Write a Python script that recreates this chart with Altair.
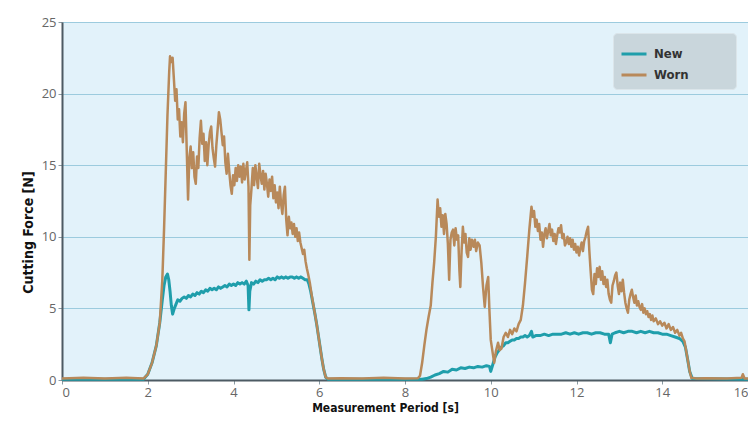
import altair as alt
import pandas as pd

worn_x = [0, 0.5, 1.0, 1.5, 1.9, 2.0, 2.1, 2.2, 2.28, 2.34, 2.38, 2.42, 2.46, 2.5, 2.52, 2.55, 2.58, 2.61, 2.64, 2.67, 2.7, 2.73, 2.76, 2.79, 2.82, 2.85, 2.88, 2.91, 2.94, 2.97, 3.0, 3.03, 3.06, 3.09, 3.12, 3.15, 3.18, 3.21, 3.24, 3.27, 3.3, 3.33, 3.36, 3.39, 3.42, 3.45, 3.48, 3.51, 3.54, 3.57, 3.6, 3.63, 3.66, 3.69, 3.72, 3.75, 3.78, 3.81, 3.84, 3.87, 3.9, 3.93, 3.96, 3.99, 4.02, 4.05, 4.08, 4.11, 4.14, 4.17, 4.2, 4.23, 4.26, 4.29, 4.32, 4.35, 4.37, 4.39, 4.42, 4.45, 4.48, 4.51, 4.54, 4.57, 4.6, 4.63, 4.66, 4.69, 4.72, 4.75, 4.78, 4.81, 4.84, 4.87, 4.9, 4.93, 4.96, 4.99, 5.02, 5.05, 5.08, 5.11, 5.14, 5.17, 5.2, 5.23, 5.26, 5.29, 5.32, 5.35, 5.38, 5.41, 5.44, 5.47, 5.5, 5.53, 5.56, 5.59, 5.62, 5.65, 5.68, 5.71, 5.74, 5.78, 5.82, 5.86, 5.9, 5.94, 5.98, 6.02, 6.06, 6.1, 6.15, 6.2,
          6.5, 7.0, 7.5, 8.0, 8.3, 8.35, 8.4, 8.45, 8.5, 8.55, 8.6, 8.64, 8.68, 8.72, 8.76, 8.79, 8.82, 8.85, 8.88, 8.91, 8.94, 8.97, 9.0, 9.03, 9.06, 9.09, 9.12, 9.15, 9.18, 9.21, 9.24, 9.27, 9.29, 9.32, 9.35, 9.38, 9.41, 9.44, 9.47, 9.5, 9.53, 9.56, 9.6, 9.63, 9.66, 9.7, 9.74, 9.78, 9.82, 9.86, 9.9, 9.94, 9.97, 10.0, 10.04, 10.08, 10.12, 10.17, 10.21, 10.25, 10.3, 10.35, 10.4, 10.45, 10.5, 10.55, 10.6, 10.65, 10.7, 10.75, 10.8, 10.85, 10.9, 10.95, 10.98, 11.01, 11.04, 11.07, 11.1, 11.13, 11.16, 11.19, 11.22, 11.25, 11.28, 11.31, 11.34, 11.37, 11.4, 11.43, 11.46, 11.49, 11.52, 11.55, 11.58, 11.61, 11.64, 11.67, 11.7, 11.73, 11.76, 11.79, 11.82, 11.85, 11.88, 11.91, 11.94, 11.97, 12.0, 12.03, 12.06, 12.09, 12.12, 12.15, 12.18, 12.21, 12.24, 12.27, 12.3, 12.33, 12.36, 12.39, 12.42, 12.45, 12.48, 12.51, 12.54, 12.57, 12.6, 12.63, 12.66, 12.69, 12.72, 12.75, 12.78, 12.81, 12.84, 12.87, 12.9, 12.93, 12.96, 12.99, 13.02, 13.05, 13.08, 13.11, 13.14, 13.17, 13.2, 13.23, 13.26, 13.29, 13.32, 13.35, 13.38, 13.41, 13.44, 13.47, 13.5, 13.53, 13.56, 13.59, 13.62, 13.65, 13.68, 13.71, 13.74, 13.77, 13.8, 13.85, 13.9, 13.95, 14.0, 14.05, 14.1, 14.15, 14.2, 14.25, 14.3, 14.35, 14.4, 14.44, 14.48, 14.52, 14.56, 14.6, 14.64, 14.68, 14.8, 15.0, 15.5, 15.85, 15.88, 15.92, 16.0]
worn_y = [0.1, 0.15, 0.1, 0.15, 0.1, 0.4, 1.2, 2.4, 4.0, 7.0, 10.5, 14.5, 18.5, 21.5, 22.6, 22.2, 22.5, 21.0, 19.5, 20.3, 18.2, 18.9, 17.0, 18.0, 16.6, 18.6, 19.4, 16.0, 12.6, 15.5, 16.3, 14.8, 15.9, 14.2, 13.7, 15.6, 14.8, 16.9, 18.1, 16.5, 17.2, 15.3, 16.6, 15.0, 16.4, 17.3, 17.7, 16.2, 15.5, 14.9, 16.4, 17.5, 18.7, 18.2, 17.3, 16.4, 17.0, 15.2, 14.4, 15.8, 14.6, 13.6, 13.0, 14.3, 13.6, 14.8, 13.9, 15.0, 14.2, 14.9, 13.8, 15.1, 14.0, 14.6, 15.2, 13.5, 8.4, 12.2, 13.4, 14.8, 13.6, 15.0, 14.2, 13.4, 15.1, 14.3, 13.7, 14.6, 13.3, 14.4, 13.7, 12.8, 14.0, 13.2, 14.2, 12.7, 13.6, 12.4, 13.1, 12.0, 13.5, 12.3, 11.6, 12.9, 13.5, 11.2, 10.1, 11.4, 10.6, 11.0, 10.2, 10.9, 10.0, 10.6, 9.7, 10.3, 9.6, 9.2, 8.8, 9.1, 8.3, 7.8, 7.4, 6.8, 6.0, 5.3, 4.6, 3.9, 3.1, 2.3, 1.5, 0.8, 0.2, 0.1,
          0.12, 0.1, 0.15, 0.1, 0.12, 0.3, 1.2, 2.4, 3.5, 4.4, 5.2, 6.8, 8.2, 10.0, 12.6, 11.4, 12.0, 10.7, 11.5, 10.2, 11.6, 10.9, 9.5, 7.0, 9.8, 10.3, 10.5, 9.4, 10.6, 9.8, 10.1, 7.6, 6.5, 9.0, 10.7, 9.6, 10.2, 8.9, 8.6, 9.9, 9.1, 9.8, 9.3, 9.8, 9.0, 9.6, 9.4, 8.2, 6.5, 5.1, 6.6, 7.2, 4.8, 2.8, 2.0, 1.2, 2.0, 2.6, 2.1, 2.2, 3.0, 3.3, 3.0, 3.5, 3.2, 3.6, 3.4, 3.9, 4.2, 5.2, 6.8, 8.6, 10.5, 12.1, 11.4, 11.8, 10.7, 11.2, 10.4, 10.9, 9.8, 10.3, 9.3, 10.2, 10.6, 9.9, 10.4, 10.9, 10.1, 10.5, 9.7, 10.2, 9.5, 10.1, 10.6, 10.3, 10.8, 9.9, 10.2, 9.4, 9.6, 10.0, 9.5, 9.9, 9.3, 9.8, 9.1, 9.5, 8.9, 9.3, 8.7, 9.2, 9.6, 9.0, 9.7, 10.0, 10.4, 10.7, 9.0, 7.6, 6.3, 6.0, 7.4, 6.7, 7.8, 7.2, 7.9, 7.0, 7.6, 6.7, 7.2, 6.5, 7.0, 6.0, 5.6, 5.4, 6.6, 6.9, 7.3, 7.5, 6.6, 6.0, 6.8, 6.2, 7.0, 6.1, 5.4, 5.0, 4.7, 5.6, 6.0, 6.3, 5.8, 5.4, 5.9, 5.2, 5.5, 5.1, 4.9, 5.3, 4.7, 5.0, 4.6, 4.8, 4.4, 4.6, 4.2, 4.5, 4.1, 4.3, 3.9, 4.1, 3.8, 4.0, 3.6, 3.9, 3.5, 3.7, 3.3, 3.5, 3.1, 3.3, 2.9, 2.7, 2.0, 1.3, 0.6, 0.15, 0.1, 0.12, 0.1, 0.15, 0.4, 0.1, 0.1]

new_x = [0, 1.9, 2.0, 2.1, 2.2, 2.28, 2.34, 2.38, 2.42, 2.46, 2.49, 2.52, 2.55, 2.58, 2.62, 2.66, 2.7, 2.75, 2.8, 2.85, 2.9, 2.95, 3.0, 3.05, 3.1, 3.15, 3.2, 3.25, 3.3, 3.35, 3.4, 3.45, 3.5, 3.55, 3.6, 3.65, 3.7, 3.75, 3.8, 3.85, 3.9, 3.95, 4.0, 4.05, 4.1, 4.15, 4.2, 4.25, 4.3, 4.34, 4.36, 4.38, 4.42, 4.47, 4.52, 4.57, 4.62, 4.67, 4.72, 4.77, 4.82, 4.87, 4.92, 4.97, 5.02, 5.07, 5.12, 5.17, 5.22, 5.27, 5.32, 5.37, 5.42, 5.47, 5.52, 5.57, 5.62, 5.67, 5.72, 5.76, 5.8, 5.85, 5.9, 5.94, 5.98, 6.02, 6.06, 6.1, 6.15, 6.2,
         8.4, 8.5, 8.6, 8.7, 8.8, 8.9, 9.0, 9.1, 9.2, 9.3, 9.4, 9.5, 9.6, 9.7, 9.8, 9.9, 9.97, 10.0, 10.05, 10.1, 10.15, 10.2, 10.25, 10.3, 10.35, 10.4, 10.45, 10.5, 10.55, 10.6, 10.65, 10.7, 10.75, 10.8, 10.85, 10.9, 10.95, 10.98, 11.05, 11.15, 11.25, 11.35, 11.45, 11.55, 11.65, 11.75, 11.85, 11.95, 12.05, 12.15, 12.25, 12.35, 12.45, 12.55, 12.65, 12.75, 12.79, 12.83, 12.9, 13.0, 13.1, 13.2, 13.3, 13.4, 13.5, 13.6, 13.7, 13.8, 13.9, 14.0, 14.1, 14.2, 14.3, 14.4, 14.48, 14.54, 14.6, 14.64, 14.7, 16.0]
new_y = [0.05, 0.05, 0.4, 1.2, 2.4, 4.0, 5.6, 6.6, 7.2, 7.4, 7.0, 6.2, 5.2, 4.6, 5.0, 5.3, 5.6, 5.5, 5.7, 5.8, 5.7, 5.9, 5.8, 6.0, 5.9, 6.1, 6.0, 6.2, 6.1, 6.3, 6.2, 6.4, 6.3, 6.4, 6.3, 6.5, 6.4, 6.5, 6.6, 6.5, 6.7, 6.6, 6.7, 6.6, 6.8, 6.7, 6.8, 6.7, 6.9, 6.6, 4.9, 6.2, 6.8, 6.7, 6.9, 6.8, 7.0, 6.9, 7.0, 7.0, 7.1, 7.0, 7.1, 7.0, 7.2, 7.1, 7.2, 7.1, 7.2, 7.1, 7.2, 7.2, 7.1, 7.2, 7.1, 7.2, 7.1, 7.0, 7.0, 6.7, 6.2, 5.4, 4.6, 3.9, 3.1, 2.3, 1.5, 0.8, 0.2, 0.05,
         0.05, 0.1, 0.2, 0.35, 0.45, 0.6, 0.55, 0.75, 0.7, 0.85, 0.8, 0.9, 0.85, 0.95, 0.9, 1.0, 0.95, 0.6, 1.1, 1.6, 1.9, 2.1, 2.3, 2.4, 2.6, 2.6, 2.7, 2.8, 2.8, 2.9, 2.9, 3.0, 3.0, 3.1, 3.0, 3.1, 3.4, 3.0, 3.1, 3.1, 3.2, 3.1, 3.2, 3.2, 3.2, 3.3, 3.2, 3.3, 3.2, 3.3, 3.3, 3.2, 3.3, 3.3, 3.2, 3.2, 2.6, 3.2, 3.3, 3.4, 3.3, 3.4, 3.4, 3.3, 3.4, 3.3, 3.4, 3.3, 3.3, 3.2, 3.2, 3.1, 3.0, 2.9, 2.7, 2.3, 1.3, 0.6, 0.1, 0.05]

series_names = ["New", "Worn"]
series_colors = ["#1f9eab", "#b8895a"]
x_ticks = [0, 2, 4, 6, 8, 10, 12, 14, 16]
y_ticks = [0, 5, 10, 15, 20, 25]

df_new = pd.DataFrame({"t": new_x, "f": new_y, "series": "New"})
df_worn = pd.DataFrame({"t": worn_x, "f": worn_y, "series": "Worn"})

color = alt.Color(
    "series:N",
    scale=alt.Scale(domain=series_names, range=series_colors),
    legend=alt.Legend(
        title="\u00a0", titleOrient="right", titlePadding=40, titleFontSize=4,
        orient="none", legendX=551, legendY=11,
        symbolType="stroke", symbolStrokeWidth=3, symbolSize=625,
        fillColor="#c9d6dc", strokeColor="#dbe5ea", cornerRadius=4,
        padding=7, rowPadding=-2, labelOffset=6,
        labelFont="Liberation Sans Narrow, DejaVu Sans Condensed",
        labelFontWeight="bold", labelFontSize=13, labelColor="#333333",
    ),
)

x_enc = alt.X(
    "t:Q", scale=alt.Scale(domain=[0, 16], nice=False),
    axis=alt.Axis(values=x_ticks, title="Measurement Period [s]", grid=False,
                  titleX=323, titleY=22),
)
y_enc = alt.Y(
    "f:Q", scale=alt.Scale(domain=[0, 25], nice=False),
    axis=alt.Axis(values=y_ticks, title="Cutting Force [N]", grid=True,
                  titleX=-27, titleY=210, titleFontSize=14),
)

line_new = alt.Chart(df_new).mark_line(strokeWidth=3.0, strokeJoin="round").encode(
    x=x_enc, y=y_enc, color=color, order="t:Q")
line_worn = alt.Chart(df_worn).mark_line(strokeWidth=2.5, strokeJoin="round").encode(
    x=x_enc, y=y_enc, color=color, order="t:Q")

chart = alt.layer(line_new, line_worn).properties(
    width=686, height=358,
    autosize=alt.AutoSizeParams(type="none"),
    padding={"left": 54, "top": 14, "right": 0, "bottom": 35},
    background="white",
).configure_view(
    fill="#e2f2fa", stroke="#a9bcc5", strokeWidth=1,
).configure_axis(
    labelFont="Open Sans", labelFontSize=13, labelColor="#666666",
    titleFont="Liberation Sans Narrow, DejaVu Sans Condensed", titleFontWeight="bold",
    titleFontSize=12, titleColor="#111111",
    domainColor="#4d5a63", domainWidth=2,
    tickColor="#8a9aa2", tickSize=4,
    gridColor="#9ccbde", gridWidth=1.2,
)

chart.save("out.html", embed_options={"renderer": "svg", "actions": False})
